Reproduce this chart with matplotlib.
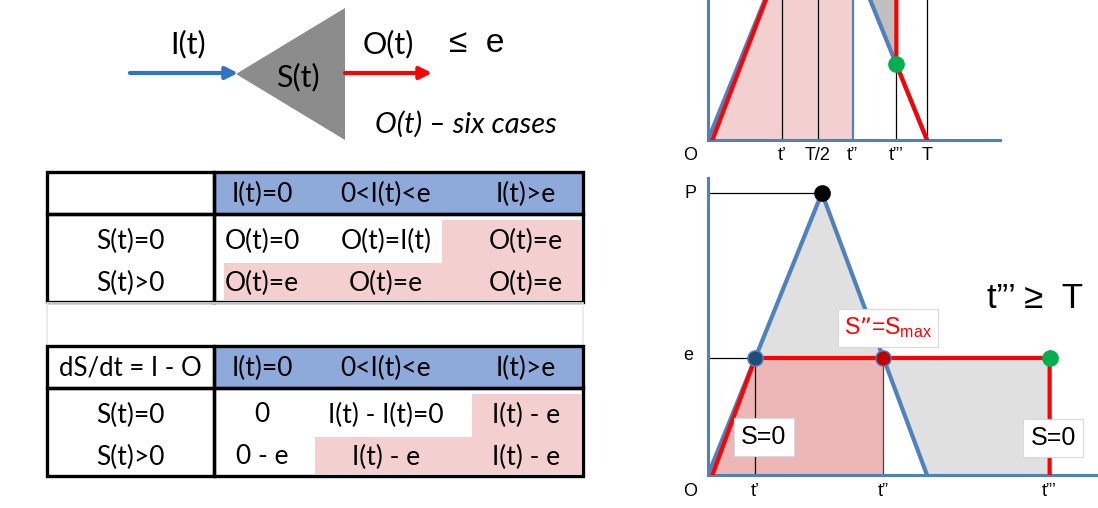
import numpy as np
import matplotlib.pyplot as plt
from matplotlib.patches import Polygon, Rectangle

W, H = 1098, 508

# --- tables -------------------------------------------------------------
col_heads = ["I(t)=0", "0<I(t)<e", "I(t)>e"]
row_heads = ["S(t)=0", "S(t)>0"]
out_corner = ""
out_cells = [["O(t)=0", "O(t)=I(t)", "O(t)=e"],
             ["O(t)=e", "O(t)=e", "O(t)=e"]]
out_shade = [[0, 0, 1], [1, 1, 1]]
ds_corner = "dS/dt = I - O"
ds_cells = [["0", "I(t) - I(t)=0", "I(t) - e"],
            ["0 - e", "I(t) - e", "I(t) - e"]]
ds_shade = [[0, 0, 1], [0, 1, 1]]

# --- hydrographs (time in T/10, flow in P/10) ---------------------------
top_in_t = [0, 5.0, 10.0]
top_in_q = [0, 10.0, 0]
top_e = 6.8
top_ticks = [3.4, 5.0, 6.6, 8.6, 10.0]
top_tick_labels = ["t’", "T/2", "t”", "t”’", "T"]
top_out_t = [0.2, 3.4, 8.6, 8.6, 10.0]
top_out_q = [0, 6.8, 6.8, 2.8, 0]

bot_in_t = [0, 5.2, 10.0]
bot_in_q = [0, 10.0, 0]
bot_e = 4.15
bot_ticks = [2.16, 8.0, 15.6]
bot_tick_labels = ["t’", "t”", "t”’"]
bot_out_t = [0.2, 2.16, 15.6, 15.6]
bot_out_q = [0, 4.15, 4.15, 0]

BLUE = "#4f81bd"
RED = "#ff0000"
HEAD = "#8eaadb"
PINK = "#f4cfcf"
SANS = "Liberation Sans"
CAL = "Lato"
TFS = 19

fig = plt.figure(figsize=(W / 100, H / 100), dpi=100)
ax0 = fig.add_axes([0, 0, 1, 1])
ax0.set_xlim(0, W)
ax0.set_ylim(H, 0)
ax0.axis("off")

# --- storage sketch -----------------------------------------------------
ax0.add_patch(Polygon([(236, 74), (345, 8), (345, 140)], closed=True,
                      facecolor="#8c8c8c", edgecolor="none"))
ax0.annotate("", xy=(238, 73), xytext=(130, 73),
             arrowprops=dict(arrowstyle="-|>", color="#2e75c6", lw=3,
                             mutation_scale=18, shrinkA=0, shrinkB=0))
ax0.annotate("", xy=(432, 73), xytext=(345, 73),
             arrowprops=dict(arrowstyle="-|>", color=RED, lw=3,
                             mutation_scale=18, shrinkA=0, shrinkB=0))
ax0.text(188, 44, "I(t)", fontsize=22, family=CAL, ha="center", va="center")
ax0.text(298, 77, "S(t)", fontsize=22, family=CAL, ha="center", va="center")
ax0.text(388, 44, "O(t)", fontsize=22, family=CAL, ha="center", va="center")
ax0.text(477, 44, "≤  e", fontsize=24, family=SANS, ha="center", va="center")
ax0.text(466, 124, "O(t) – six cases", fontsize=21, family=CAL,
         style="italic", ha="center", va="center")


def draw_table(y0, corner, cells, shade, pink_x):
    x0, xd, x1 = 47, 214, 583
    yh, yb = y0 + 42, y0 + 130
    ax0.add_patch(Rectangle((xd, y0), x1 - xd, yh - y0, facecolor=HEAD,
                            edgecolor="none"))
    rows_y = [(yh + 6, y0 + 91), (y0 + 91, yb - 2)]
    for r in range(2):
        for c in range(3):
            if shade[r][c]:
                xa, xb = pink_x[c], pink_x[c + 1]
                ya, yz = rows_y[r]
                ax0.add_patch(Rectangle((xa, ya), xb - xa, yz - ya,
                                        facecolor=PINK, edgecolor="none"))
    for box in [(x0, y0, xd - x0, yh - y0), (xd, y0, x1 - xd, yh - y0),
                (x0, yh, xd - x0, yb - yh), (xd, yh, x1 - xd, yb - yh)]:
        ax0.add_patch(Rectangle(box[:2], box[2], box[3], facecolor="none",
                                edgecolor="black", lw=2.4))
    col_x = [262, 386, 526]
    ax0.text(130, y0 + 22, corner, fontsize=TFS - 0.5, family=CAL,
             ha="center", va="center")
    for c, lbl in enumerate(col_heads):
        ax0.text(col_x[c], y0 + 22, lbl, fontsize=TFS, family=CAL,
                 ha="center", va="center")
    for r in range(2):
        yy = y0 + 69 + 42 * r
        ax0.text(130, yy, row_heads[r], fontsize=TFS, family=CAL,
                 ha="center", va="center")
        for c in range(3):
            ax0.text(col_x[c], yy, cells[r][c], fontsize=TFS, family=CAL,
                     ha="center", va="center")


draw_table(172, out_corner, out_cells, out_shade, [224, 320, 442, 581])
ax0.add_patch(Rectangle((47, 303), 536, 43, facecolor="none",
                        edgecolor="#e8e8e8", lw=1.2))
draw_table(346, ds_corner, ds_cells, ds_shade, [224, 315, 472, 581])


def style_axes(ax):
    for s in ["top", "right"]:
        ax.spines[s].set_visible(False)
    for s in ["left", "bottom"]:
        ax.spines[s].set_color(BLUE)
        ax.spines[s].set_linewidth(2.2)
    ax.set_xticks([])
    ax.set_yticks([])
    ax.patch.set_alpha(0)


def tick_labels(ax, ticks, labels):
    for t, lbl in zip(ticks, labels):
        ax.annotate(lbl, (t, 0), xytext=(0, -16), textcoords="offset pixels",
                    ha="center", va="center", fontsize=13, family=SANS,
                    annotation_clip=False)
    ax.annotate("O", (0, 0), xytext=(-18, -16), textcoords="offset pixels",
                ha="center", va="center", fontsize=13, family=SANS,
                annotation_clip=False)


# --- upper hydrograph (cut by the page top) ------------------------------
ax1 = fig.add_axes([708 / W, (H - 140) / H, 292 / W, 324 / H])
ax1.set_xlim(0, 292 / 21.9)
ax1.set_ylim(0, 12)
style_axes(ax1)
t1, th, t2, t3, tT = top_ticks
ax1.fill([top_out_t[0], t1, t2, t2], [0, top_e, top_e, 0],
         color=PINK, lw=0, zorder=1)
ax1.fill([t2, t3, t3], [top_e, top_e, top_out_q[3]],
         color="#bfbfbf", lw=0, zorder=1)
ax1.plot([t2, t2], [0, top_e], color=BLUE, lw=1.6, zorder=2)
for t, qtop in [(t1, top_e), (th, 10), (t3, top_out_q[3]), (tT, top_e)]:
    ax1.plot([t, t], [0, qtop], color="black", lw=0.9, zorder=2)
ax1.plot(top_in_t, top_in_q, color=BLUE, lw=3, zorder=3,
         solid_joinstyle="miter")
ax1.plot(top_out_t, top_out_q, color=RED, lw=3, zorder=4)
ax1.plot(t3, top_out_q[3], "o", ms=11, color="#00b050", zorder=5)
tick_labels(ax1, top_ticks, top_tick_labels)

# --- lower hydrograph ----------------------------------------------------
ax2 = fig.add_axes([708 / W, (H - 475) / H, 390 / W, 297 / H])
ax2.set_xlim(0, 390 / 21.9)
ax2.set_ylim(0, 297 / 28.2)
style_axes(ax2)
b1, b2, b3 = bot_ticks
peak_t, peak_q = bot_in_t[1], bot_in_q[1]
ax2.fill([b1, peak_t, b2], [bot_e, peak_q, bot_e], color="#e0e0e0", lw=0,
         zorder=1)
ax2.fill([b2, b3, b3, bot_in_t[2]], [bot_e, bot_e, 0, 0], color="#e0e0e0",
         lw=0, zorder=1)
ax2.fill([bot_out_t[0], b1, b2, b2], [0, bot_e, bot_e, 0], color="#ecb6b6",
         lw=0, zorder=1)
ax2.plot([0, peak_t], [peak_q, peak_q], color="black", lw=0.9, zorder=2)
ax2.plot([0, b1], [bot_e, bot_e], color="black", lw=0.9, zorder=2)
ax2.plot([b1, b1], [0, bot_e], color="black", lw=0.9, zorder=2)
ax2.plot([b2, b2], [0, bot_e], color="#444444", lw=0.9, zorder=2)
ax2.plot(bot_in_t, bot_in_q, color=BLUE, lw=3, zorder=3,
         solid_joinstyle="miter")
ax2.plot(bot_out_t, bot_out_q, color=RED, lw=3, zorder=4)
ax2.plot(peak_t, peak_q, "o", ms=11, color="black", zorder=5)
ax2.plot(b1, bot_e, "o", ms=11, color="#1f4e79", mec=BLUE, zorder=5)
ax2.plot(b2, bot_e, "o", ms=11, color="#c00000", mec=BLUE, zorder=5)
ax2.plot(b3, bot_e, "o", ms=11, color="#00b050", zorder=5)
tick_labels(ax2, bot_ticks, bot_tick_labels)
ax2.annotate("P", (0, peak_q), xytext=(-18, 0), textcoords="offset pixels",
             ha="center", va="center", fontsize=13, family=SANS,
             annotation_clip=False)
ax2.annotate("e", (0, bot_e), xytext=(-20, 2), textcoords="offset pixels",
             ha="center", va="center", fontsize=13, family=SANS,
             annotation_clip=False)

box = dict(boxstyle="square,pad=0.28", facecolor="white", edgecolor="#d9d9d9",
           lw=0.8)
ax0.text(764, 437, "S=0", fontsize=18, family=SANS, ha="center", va="center",
         bbox=box, zorder=6)
ax0.text(1053, 438, "S=0", fontsize=18, family=SANS, ha="center",
         va="center", bbox=box, zorder=6)
ax0.text(888, 328, "S”=S$_\\mathregular{max}$", fontsize=16.5, family=SANS,
         color=RED, ha="center", va="center", bbox=box, zorder=6)
ax0.text(1035, 299, "t”’ ≥  T", fontsize=25, family=SANS, ha="center",
         va="center")
ax0.set_zorder(3)

fig.savefig("out.png", dpi=100)
